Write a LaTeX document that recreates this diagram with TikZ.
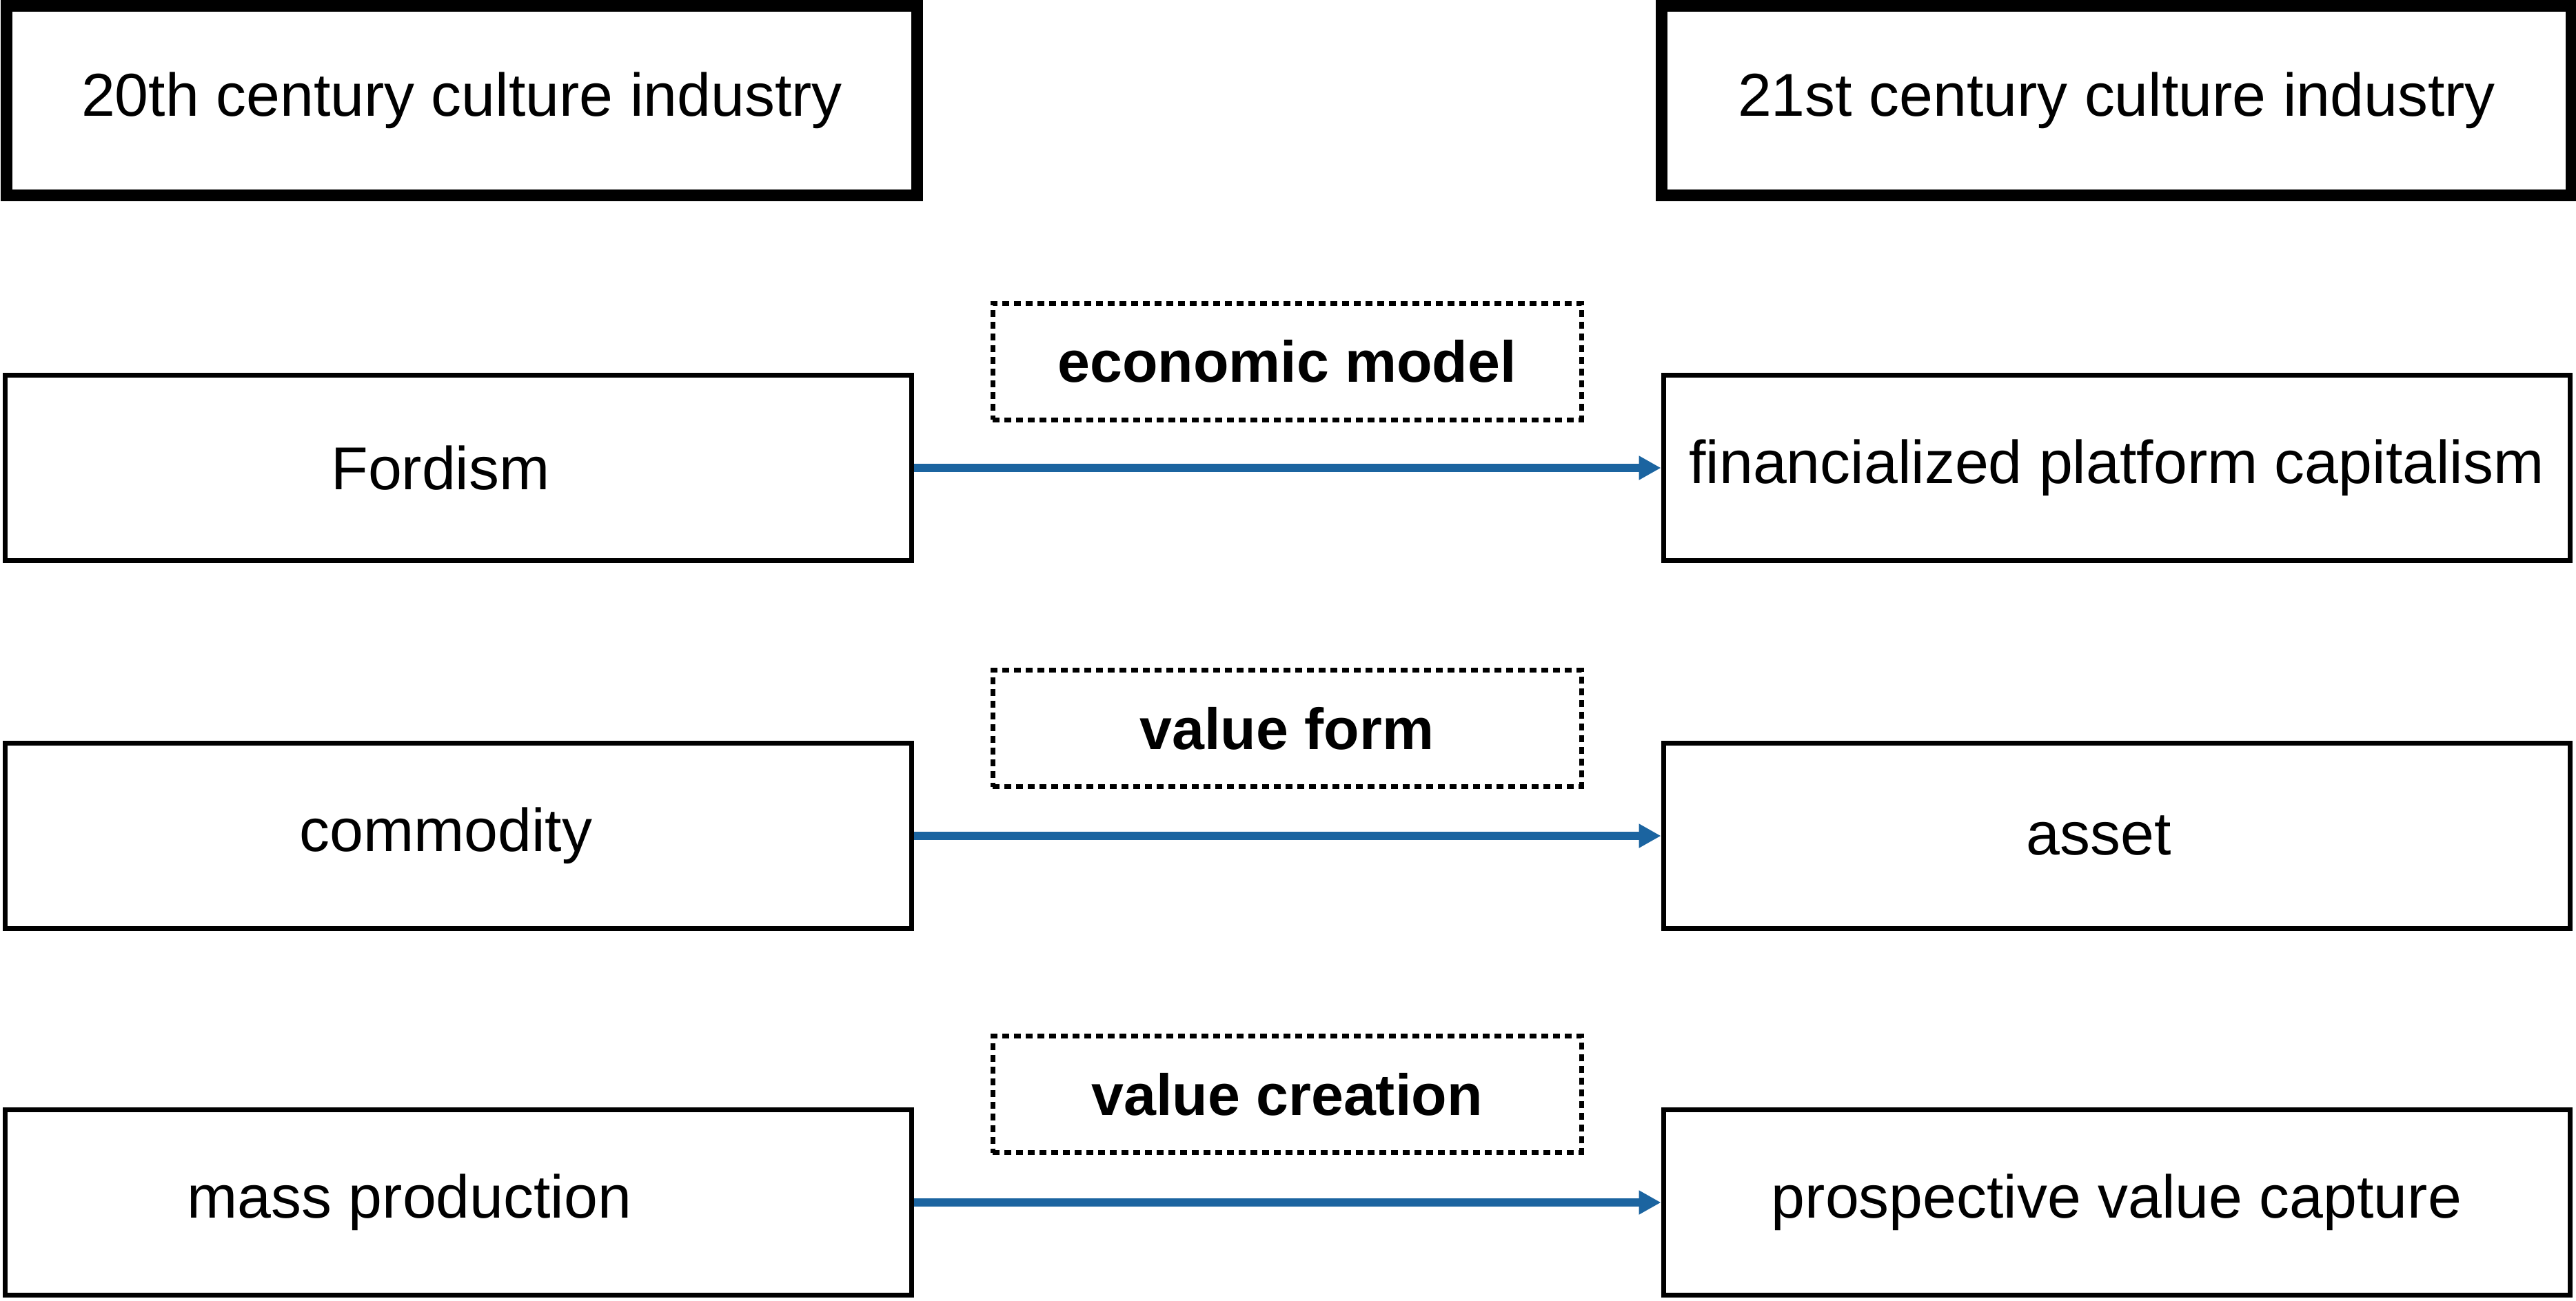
\documentclass[tikz,border=0pt]{standalone}
\usepackage{fontspec}
\setmainfont{Liberation Sans}
\usepackage{tikz}
\usetikzlibrary{arrows.meta,positioning}
\definecolor{bleu}{HTML}{1B64A0}
\tikzset{
  entete/.style={draw=black,line width=0.17cm,minimum width=13.2cm,minimum height=2.75cm,
                 font=\fontsize{25}{30}\selectfont,inner sep=0pt},
  boite/.style={draw=black,line width=0.07cm,minimum width=13.15cm,minimum height=2.69cm,
                font=\fontsize{25}{30}\selectfont,inner sep=0pt},
  theme/.style={draw=black,line width=0.07cm,dash pattern=on 0.1cm off 0.07cm,
                minimum width=8.54cm,minimum height=1.69cm,font=\fontsize{24}{30}\selectfont\bfseries,inner sep=0pt},
  fleche/.style={-{Triangle[length=0.32cm,width=0.33cm]},line width=0.12cm,color=bleu},
}
\begin{document}
\begin{tikzpicture}
  \useasboundingbox (0,0) rectangle (37.37,-18.87);
  \node[entete] (xx) at (6.70,-1.46) {20th century culture industry};
  \node[entete] (xxi) at (30.705,-1.46) {21st century culture industry};

  \node[theme] (modele) at (18.67,-5.245) {economic model};
  \node[boite] (fordisme) at (6.65,-6.79) {Fordism\hspace*{0.52cm}};
  \node[boite] (plateforme) at (30.705,-6.79) {financialized platform capitalism};
  \draw[fleche] (fordisme.east) -- (plateforme.west);

  \node[theme] (forme) at (18.67,-10.57) {value form};
  \node[boite] (marchandise) at (6.65,-12.13) {commodity\hspace*{0.36cm}};
  \node[boite] (actif) at (30.705,-12.13) {asset\hspace*{0.52cm}};
  \draw[fleche] (marchandise.east) -- (actif.west);

  \node[theme] (creation) at (18.67,-15.88) {value creation};
  \node[boite] (masse) at (6.65,-17.45) {mass production\hspace*{1.42cm}};
  \node[boite] (capture) at (30.705,-17.45) {prospective value capture};
  \draw[fleche] (masse.east) -- (capture.west);
\end{tikzpicture}
\end{document}
